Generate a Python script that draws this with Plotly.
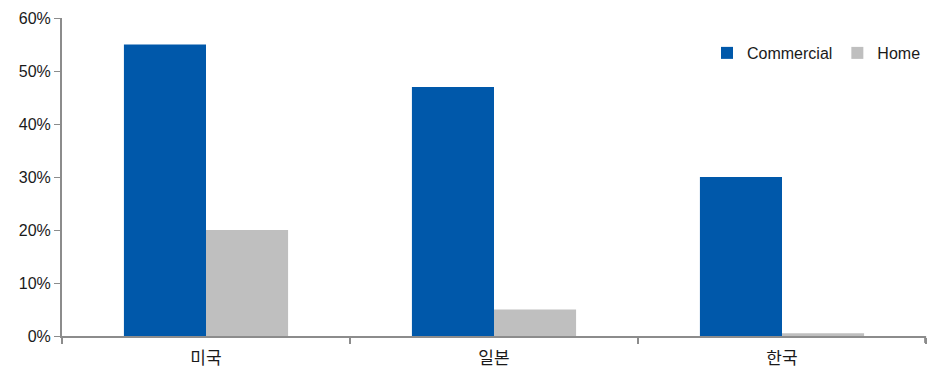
import plotly.graph_objects as go

# Share of adoption by country and segment
countries = ["미국", "일본", "한국"]
commercial = [55, 47, 30]
home = [20, 5, 0.5]
y_ticks = [0, 10, 20, 30, 40, 50, 60]
y_tick_labels = [f"{v}%" for v in y_ticks]

BLUE = "#0058AA"
GRAY = "#BFBFBF"
AXIS = "#8C8C8C"

fig = go.Figure()
fig.add_trace(go.Bar(name="Commercial", x=countries, y=commercial,
                     marker=dict(color=BLUE, line=dict(width=0))))
fig.add_trace(go.Bar(name="Home", x=countries, y=home,
                     marker=dict(color=GRAY, line=dict(width=0))))

fig.update_layout(
    width=931, height=374,
    margin=dict(l=62, r=5, t=18, b=35),
    paper_bgcolor="white", plot_bgcolor="white",
    barmode="group", bargap=0.43, bargroupgap=0,
    font=dict(family="Liberation Sans, Arial, sans-serif", size=16, color="#1a1a1a"),
    showlegend=True,
    legend=dict(orientation="h", x=1.0, xanchor="right", y=0.89, yanchor="middle",
                bgcolor="rgba(0,0,0,0)", font=dict(size=16), itemwidth=30,
                traceorder="normal"),
)
fig.update_xaxes(
    showline=True, linecolor=AXIS, linewidth=2,
    ticks="outside", tickson="boundaries", ticklen=6, tickcolor=AXIS, tickwidth=2,
    ticklabelstandoff=6,
    tickfont=dict(family="Noto Sans CJK KR, sans-serif", size=17, color="#1a1a1a"),
    showgrid=False, zeroline=False,
)
fig.update_yaxes(
    range=[0, 60], tickvals=y_ticks, ticktext=y_tick_labels,
    showline=True, linecolor=AXIS, linewidth=2,
    ticks="outside", ticklen=6, tickcolor=AXIS, tickwidth=1,
    showgrid=False, zeroline=False,
)

# closing tick at the right end of the category axis
fig.add_shape(type="line", xref="paper", yref="paper",
              x0=0.999, x1=0.999, y0=0, y1=-7 / 321,
              line=dict(color=AXIS, width=2))

fig.write_html("out.html")
